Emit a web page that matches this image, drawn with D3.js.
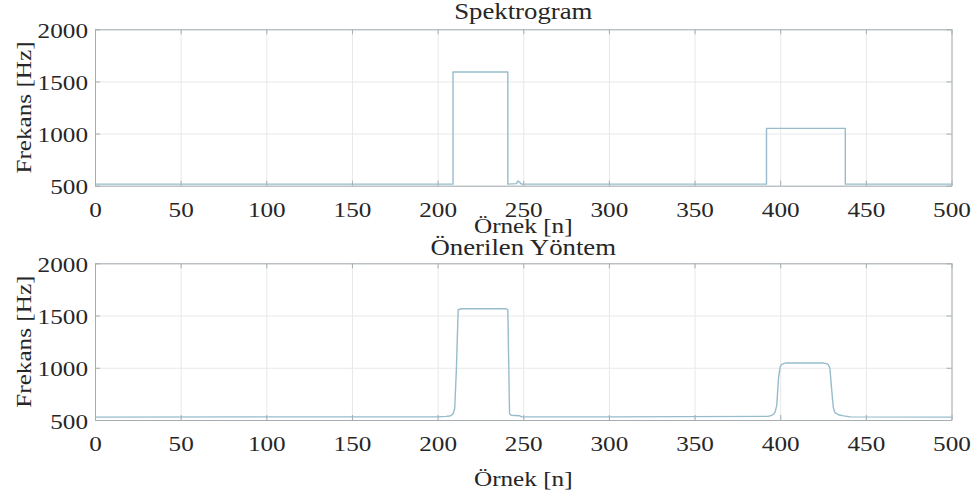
<!DOCTYPE html>
<html>
<head>
<meta charset="utf-8">
<script src="https://cdn.jsdelivr.net/npm/d3@7"></script>
<style>
  html, body { margin: 0; padding: 0; background: #fff; }
  svg { display: block; }
</style>
</head>
<body>
<svg id="chart" width="975" height="491"></svg>
<script>
// Axis ticks shared by both panels
const xTicks = [0, 50, 100, 150, 200, 250, 300, 350, 400, 450, 500];
const yTicks = [500, 1000, 1500, 2000];
const xDomain = [0, 500];
const yDomain = [500, 2000];

// Panel titles and axis labels
const titles = ["Spektrogram", "Önerilen Yöntem"];
const xLabel = "Örnek [n]";
const yLabel = "Frekans [Hz]";

// Spectrogram estimate: sample index and frequency (Hz)
const spectroN  = [0,   209, 209,  241,  241, 246, 247, 249, 392, 392,  438,  438, 500];
const spectroHz = [515, 515, 1590, 1590, 515, 520, 545, 515, 515, 1050, 1050, 515, 515];

// Proposed method estimate: sample index and frequency (Hz)
const proposedN  = [0,   100, 200, 205, 207, 208, 209, 210, 211,  212,  214,  240,  241,  242, 243, 248, 249, 300, 393, 395, 396, 397, 398, 399, 400,  401,  403,  425,  427,  428,  429,  430, 431, 432, 434, 437, 441, 500];
const proposedHz = [528, 530, 530, 535, 538, 545, 560, 610, 1000, 1555, 1565, 1565, 1555, 560, 545, 540, 530, 530, 535, 545, 555, 575, 640, 900, 1010, 1035, 1045, 1045, 1040, 1030, 1000, 800, 620, 570, 550, 540, 530, 528];

const W = 975, H = 491;
const FONT = '"Liberation Serif", Tinos, "Times New Roman", Times, serif';
const FS = 21;        // tick and axis label font size
const FS_TITLE = 22.3; // panel title font size
const SX = 1.2;       // glyph widening along reading direction
const TEXT = "#262626";
const gridColor = "#e8e8e8";
const boxColor = "#a6aeb2";
const lineColor = "#97bccc";

const svg = d3.select("#chart");

const panels = [
  { top: 29.3, bottom: 185.7, n: spectroN, hz: spectroHz, title: titles[0], titleY: 19, xLabelY: 233 },
  { top: 263.3, bottom: 420, n: proposedN, hz: proposedHz, title: titles[1], titleY: 255, xLabelY: 486 }
];
const left = 95, right = 951.5;

function styleText(sel, size) {
  return sel.attr("font-size", size || FS)
    .attr("font-family", FONT)
    .style("font-family", FONT)
    .attr("fill", TEXT);
}

function label(g, x, y, str, anchor, rot, size) {
  return g.append("text")
    .attr("transform", `translate(${x},${y}) rotate(${rot || 0}) scale(${SX},1)`)
    .attr("text-anchor", anchor || "middle")
    .text(str)
    .call(styleText, size);
}

panels.forEach(p => {
  const x = d3.scaleLinear().domain(xDomain).range([left, right]);
  const y = d3.scaleLinear().domain(yDomain).range([p.bottom, p.top]);
  const h = p.bottom - p.top, w = right - left;
  const g = svg.append("g");

  // grid lines
  g.append("g").attr("transform", `translate(0,${p.bottom})`)
    .call(d3.axisBottom(x).tickValues(xTicks).tickSize(-h).tickFormat(""))
    .call(a => a.select(".domain").remove())
    .call(a => a.selectAll("line").attr("stroke", gridColor).attr("stroke-width", 1));
  g.append("g").attr("transform", `translate(${left},0)`)
    .call(d3.axisLeft(y).tickValues(yTicks).tickSize(-w).tickFormat(""))
    .call(a => a.select(".domain").remove())
    .call(a => a.selectAll("line").attr("stroke", gridColor).attr("stroke-width", 1));

  // data trace
  const pts = p.n.map((v, i) => [v, p.hz[i]]);
  g.append("path")
    .datum(pts)
    .attr("fill", "none")
    .attr("stroke", lineColor)
    .attr("stroke-width", 1.4)
    .attr("stroke-linejoin", "round")
    .attr("d", d3.line().x(d => x(d[0])).y(d => y(d[1])));

  // box with inward ticks
  const styleAxis = a => {
    a.select(".domain").attr("stroke", boxColor).attr("stroke-width", 1);
    a.selectAll(".tick line").attr("stroke", boxColor);
  };
  const fmt = d3.format("d");
  const xb = g.append("g").attr("transform", `translate(0,${p.bottom})`)
    .call(d3.axisBottom(x).tickValues(xTicks).tickFormat(fmt).tickSizeInner(-5).tickSizeOuter(0).tickPadding(0))
    .call(styleAxis);
  xb.selectAll(".tick text")
    .attr("y", null).attr("dy", null)
    .attr("transform", `translate(0,31) scale(${SX},1)`)
    .call(styleText);
  g.append("g").attr("transform", `translate(0,${p.top})`)
    .call(d3.axisTop(x).tickValues(xTicks).tickSizeInner(-5).tickSizeOuter(0).tickFormat(""))
    .call(styleAxis);
  const yb = g.append("g").attr("transform", `translate(${left},0)`)
    .call(d3.axisLeft(y).tickValues(yTicks).tickFormat(fmt).tickSizeInner(-5).tickSizeOuter(0).tickPadding(0))
    .call(styleAxis);
  yb.selectAll(".tick text")
    .attr("x", null).attr("dy", null)
    .attr("text-anchor", "end")
    .attr("transform", `translate(-7,8) scale(${SX},1)`)
    .call(styleText);
  g.append("g").attr("transform", `translate(${right},0)`)
    .call(d3.axisRight(y).tickValues(yTicks).tickSizeInner(-5).tickSizeOuter(0).tickFormat(""))
    .call(styleAxis);

  // titles and axis labels
  label(g, (left + right) / 2, p.titleY, p.title, "middle", 0, FS_TITLE);
  label(g, (left + right) / 2, p.xLabelY, xLabel);
  label(g, 31, (p.top + p.bottom) / 2, yLabel, "middle", -90);
});
</script>
</body>
</html>
